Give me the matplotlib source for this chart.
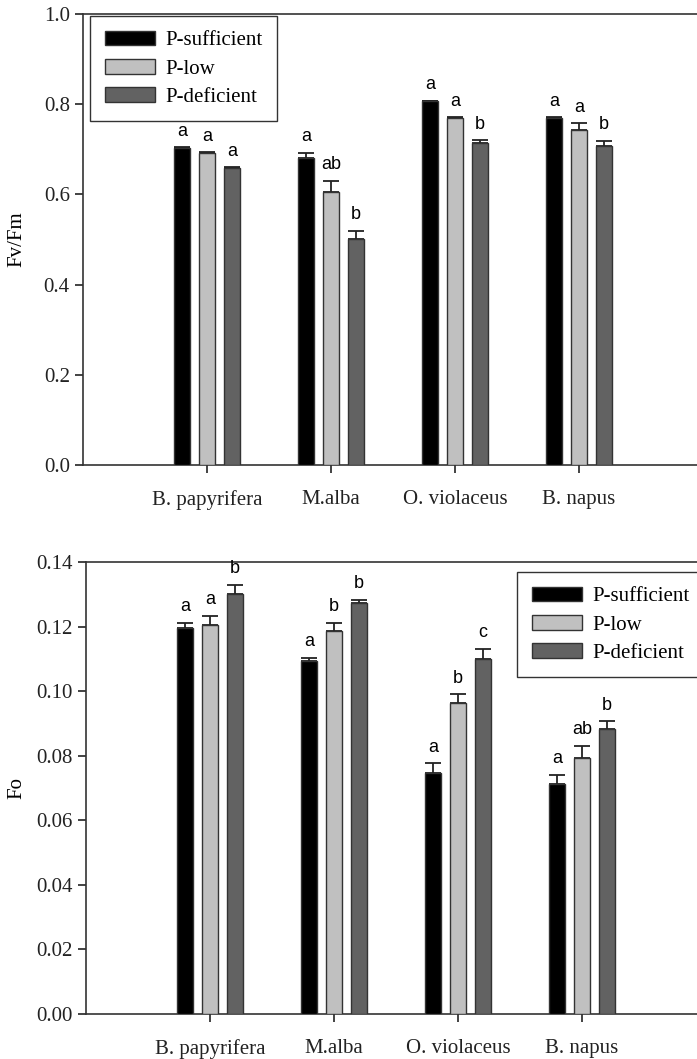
import matplotlib
matplotlib.use("Agg")
import matplotlib.pyplot as plt
import numpy as np

# ── Data ─────────────────────────────────────────────────────────────────────
species = ["B. papyrifera", "M.alba", "O. violaceus", "B. napus"]
treatments = ["P-sufficient", "P-low", "P-deficient"]

fvfm_mean = {
    "P-sufficient": [0.702, 0.681, 0.806, 0.769],
    "P-low":        [0.692, 0.606, 0.769, 0.743],
    "P-deficient":  [0.659, 0.501, 0.713, 0.707],
}
fvfm_err = {
    "P-sufficient": [0.002, 0.011, 0.001, 0.002],
    "P-low":        [0.001, 0.024, 0.002, 0.015],
    "P-deficient":  [0.001, 0.018, 0.007, 0.012],
}
fvfm_letters = {
    "P-sufficient": ["a", "a", "a", "a"],
    "P-low":        ["a", "ab", "a", "a"],
    "P-deficient":  ["a", "b", "b", "b"],
}

fo_mean = {
    "P-sufficient": [0.1197, 0.1092, 0.0746, 0.0712],
    "P-low":        [0.1205, 0.1187, 0.0962, 0.0793],
    "P-deficient":  [0.1302, 0.1272, 0.1100, 0.0882],
}
fo_err = {
    "P-sufficient": [0.0014, 0.0011, 0.0031, 0.0028],
    "P-low":        [0.0029, 0.0024, 0.0028, 0.0037],
    "P-deficient":  [0.0027, 0.0010, 0.0031, 0.0025],
}
fo_letters = {
    "P-sufficient": ["a", "a", "a", "a"],
    "P-low":        ["a", "b", "b", "ab"],
    "P-deficient":  ["b", "b", "c", "b"],
}

# ── Style ────────────────────────────────────────────────────────────────────
_COLOURS = {"P-sufficient": "#000000", "P-low": "#c0c0c0", "P-deficient": "#626262"}
_EDGE = "#333333"
_SERIF = ["Liberation Serif", "DejaVu Serif"]
_SANS = ["Liberation Sans", "DejaVu Sans"]
_FS = 15

plt.rcParams["font.family"] = _SERIF
plt.rcParams["axes.linewidth"] = 1.2
plt.rcParams["axes.edgecolor"] = _EDGE

W, H = 697, 1059
fig = plt.figure(figsize=(W / 100, H / 100), dpi=100)


def _px_axes(left, top, right, bottom):
    return fig.add_axes([left / W, 1 - bottom / H, (right - left) / W, (bottom - top) / H])


def _draw(ax, means, errs, letters, ylim, yticks, fmt, ylabel, legend_xy):
    x = np.arange(1, len(species) + 1)
    width = 0.125
    for i, t in enumerate(treatments):
        xs = x + (i - 1) * 0.2
        ax.bar(xs, means[t], width, color=_COLOURS[t], edgecolor=_EDGE,
               linewidth=1.0, label=t, zorder=3)
        ax.errorbar(xs, means[t], yerr=[np.zeros(len(xs)), errs[t]], fmt="none",
                    ecolor="#222222", elinewidth=1.3, capsize=5.5, capthick=1.3, zorder=2)
        for xi, m, e, lt in zip(xs, means[t], errs[t], letters[t]):
            ax.annotate(lt, (xi, m + e), xytext=(0, 5.5), textcoords="offset points",
                        ha="center", va="bottom", fontsize=13, family=_SANS)

    ax.set_ylim(*ylim)
    ax.set_yticks(yticks)
    ax.set_yticklabels([fmt.format(v) for v in yticks])
    ax.set_xticks(x)
    ax.set_xticklabels(species)
    ax.tick_params(axis="both", direction="out", length=6, width=1.2,
                   labelsize=_FS, colors="#222222")
    ax.tick_params(axis="x", pad=12)
    ax.spines["right"].set_visible(False)
    ax.set_ylabel(ylabel, fontsize=_FS)

    leg = ax.legend(loc="upper left", bbox_to_anchor=legend_xy, bbox_transform=fig.transFigure,
                    fontsize=_FS, frameon=True, fancybox=False, framealpha=1,
                    edgecolor=_EDGE, handlelength=2.4, handleheight=0.7,
                    handletextpad=0.5, labelspacing=0.42, borderpad=0.7,
                    borderaxespad=0)
    leg.get_frame().set_linewidth(1.0)


# ── Top: Fv/Fm ───────────────────────────────────────────────────────────────
ax1 = _px_axes(83, 14, 697, 465)
ax1.set_xlim(0, (697 - 83) / 124)
_draw(ax1, fvfm_mean, fvfm_err, fvfm_letters, (0, 1.0),
      [0.0, 0.2, 0.4, 0.6, 0.8, 1.0], "{:.1f}", "Fv/Fm", (90 / W, 1 - 16 / H))
ax1.yaxis.set_label_coords((26 - 83) / 614, 0.5)

# ── Bottom: Fo ───────────────────────────────────────────────────────────────
ax2 = _px_axes(86, 562, 697, 1014)
ax2.set_xlim(0, (697 - 86) / 124)
_draw(ax2, fo_mean, fo_err, fo_letters, (0, 0.14),
      [0.0, 0.02, 0.04, 0.06, 0.08, 0.10, 0.12, 0.14], "{:.2f}", "Fo",
      (517 / W, 1 - 572 / H))
ax2.yaxis.set_label_coords((26 - 86) / 611, 0.5)

fig.savefig("out.png", dpi=100)
